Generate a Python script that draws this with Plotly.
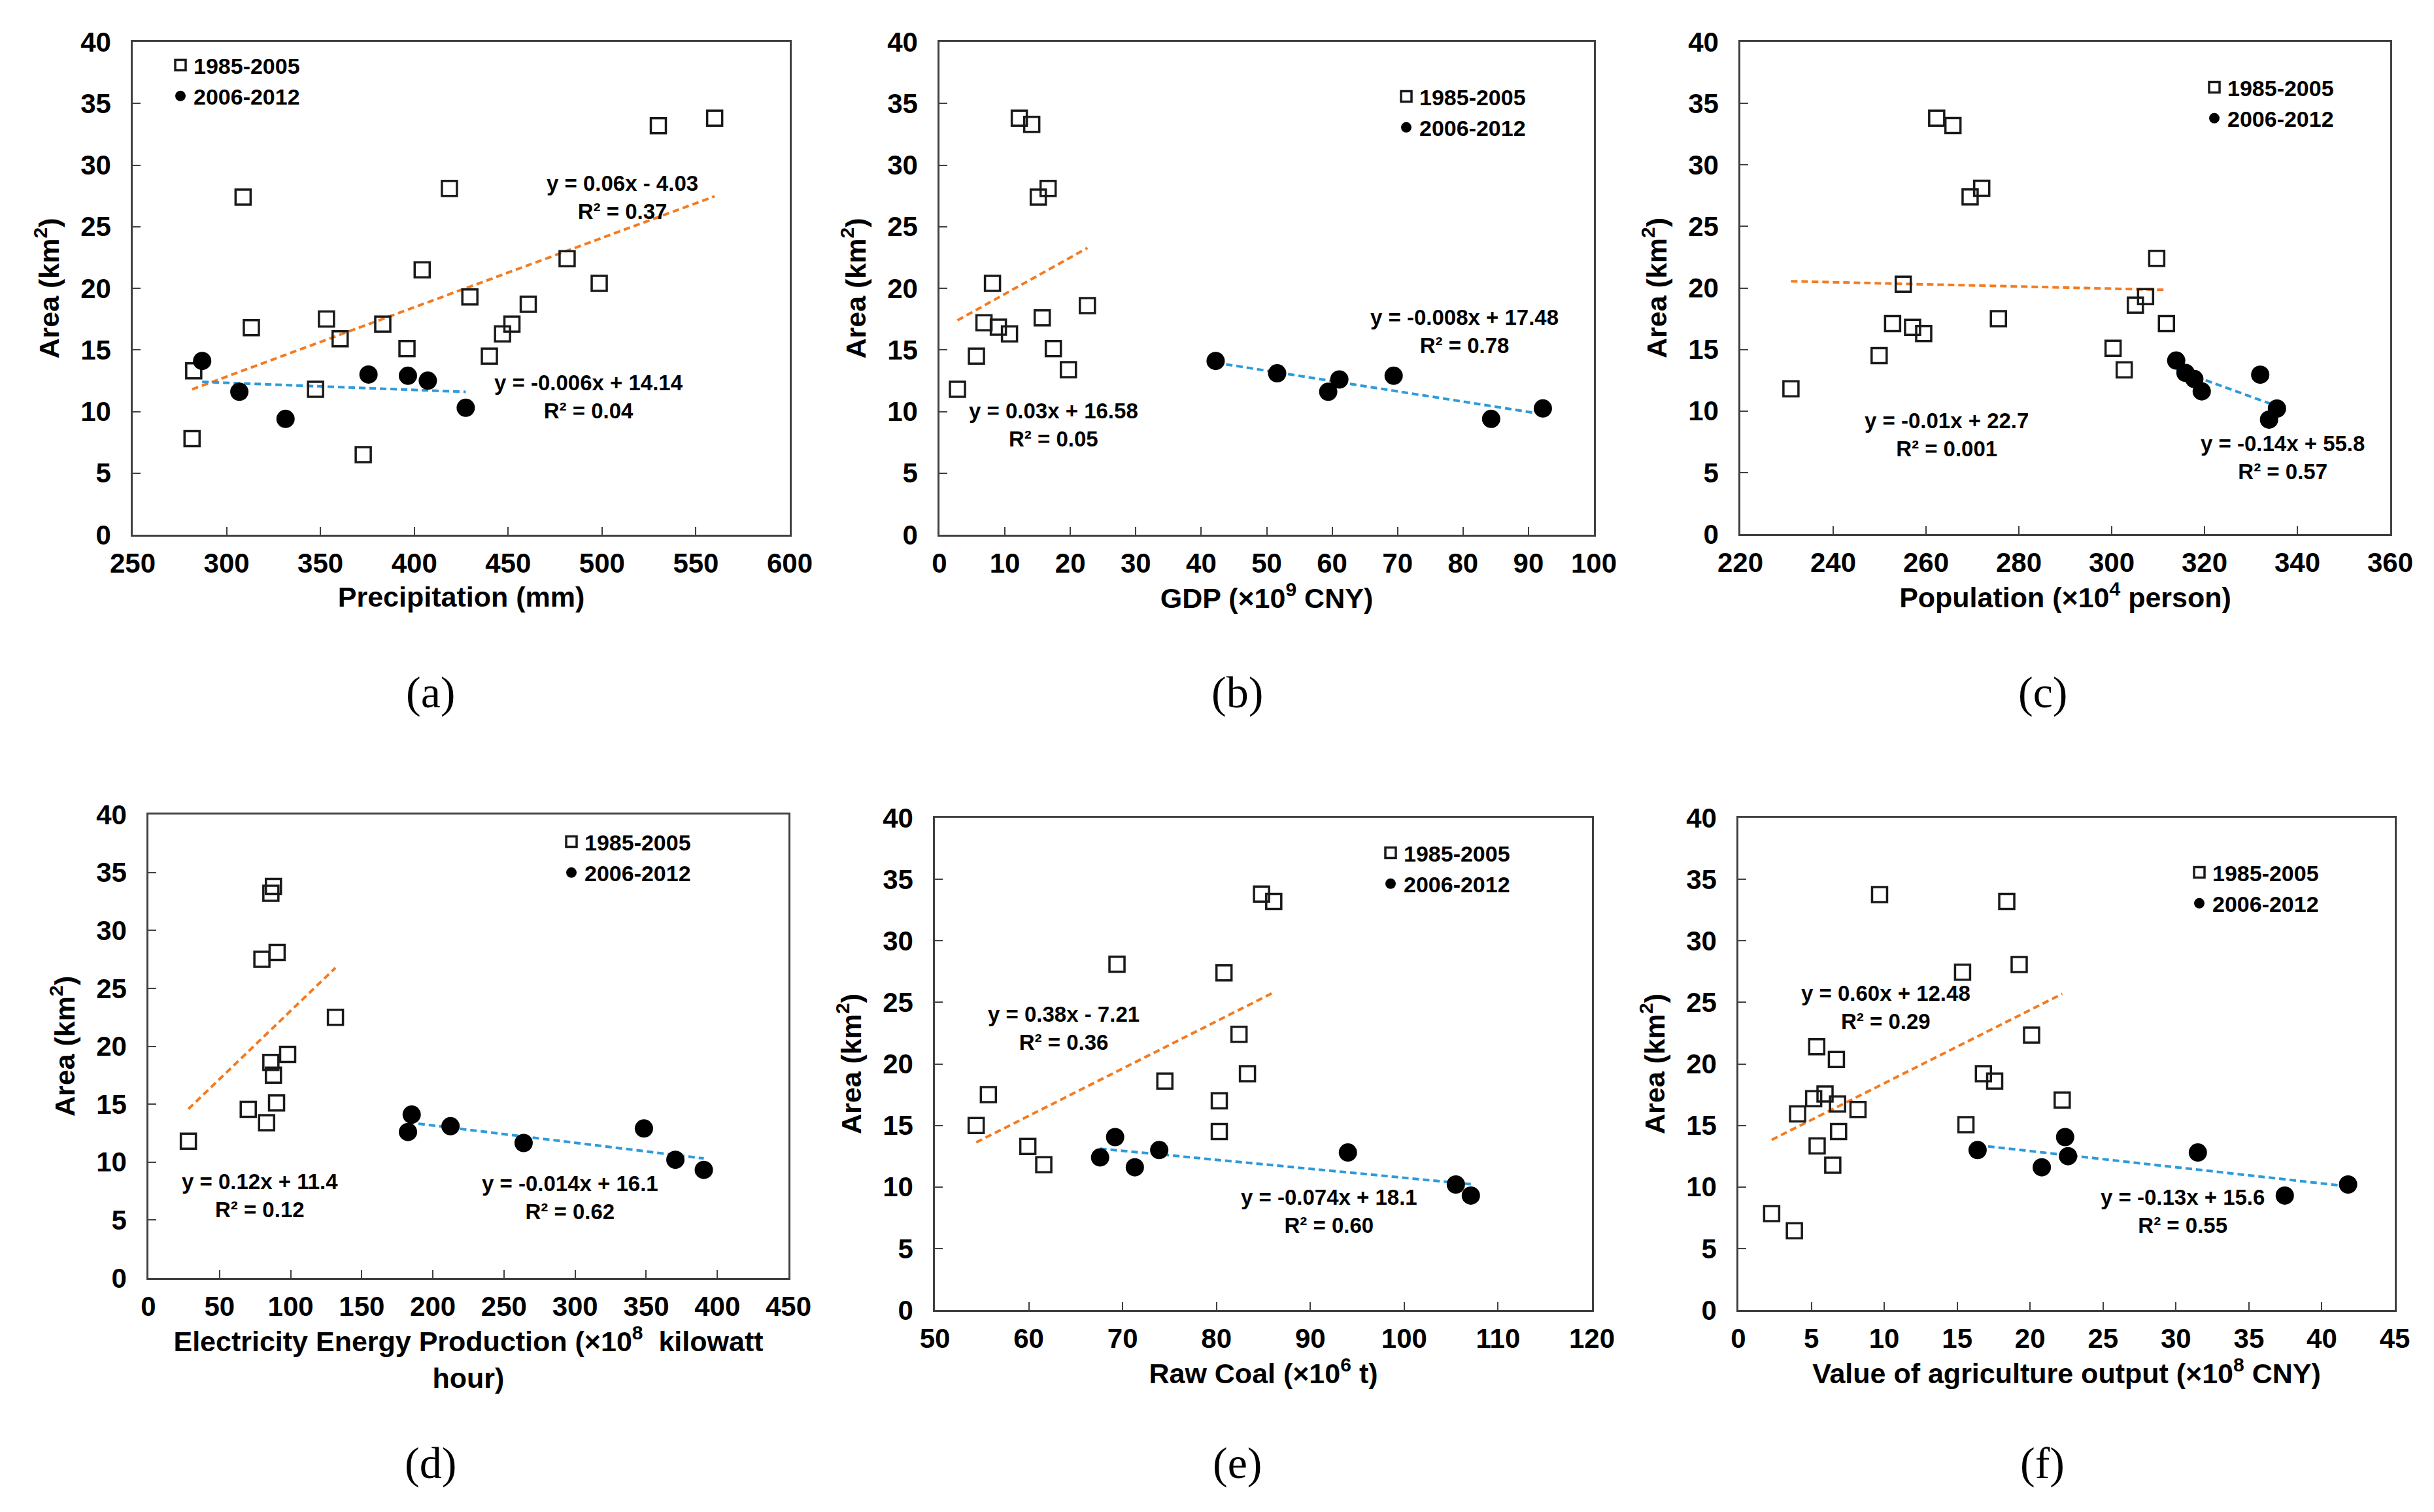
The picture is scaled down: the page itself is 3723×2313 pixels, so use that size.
import numpy as np
import plotly.graph_objects as go
from plotly.subplots import make_subplots

W, H = 3723, 2313

# ---- data (x = driver, y = area km2) ----
# (a) precipitation
precip_old = [282.5, 281.6, 308.8, 313.2, 353.2, 360.5, 347.4, 372.8, 383.2, 396.1, 418.7,
              404.2, 429.6, 440.0, 447.0, 452.0, 460.7, 481.4, 498.5, 530.0, 560.0]
area_precip_old = [13.3, 7.8, 27.4, 16.8, 17.5, 15.9, 11.8, 6.5, 17.1, 15.1, 28.1,
                   21.5, 19.3, 14.5, 16.3, 17.1, 18.7, 22.4, 20.4, 33.2, 33.8]
precip_new = [287.0, 306.8, 331.4, 375.6, 396.6, 407.2, 427.4]
area_precip_new = [14.1, 11.6, 9.4, 13.0, 12.9, 12.5, 10.3]

# (b) GDP
gdp_old = [2.75, 5.65, 6.8, 8.1, 9.0, 10.7, 12.2, 14.1, 15.1, 16.6, 15.7, 17.4, 19.7, 22.6]
area_gdp_old = [11.8, 14.5, 17.2, 20.4, 16.85, 16.3, 33.8, 33.3, 27.4, 28.1, 17.6, 15.1, 13.4, 18.6]
gdp_new = [42.2, 51.6, 59.4, 61.1, 69.4, 84.3, 92.2]
area_gdp_new = [14.1, 13.1, 11.6, 12.6, 12.9, 9.4, 10.25]

# (c) population
pop_old = [230.9, 249.9, 252.8, 255.1, 257.1, 259.5, 262.3, 265.8, 269.5, 272.0, 275.6,
           300.3, 302.7, 305.1, 307.3, 309.7, 311.8]
area_pop_old = [11.8, 14.5, 17.1, 20.3, 16.8, 16.3, 33.8, 33.2, 27.4, 28.1, 17.5,
                15.1, 13.35, 18.6, 19.3, 22.4, 17.1]
pop_new = [313.9, 315.9, 317.8, 319.4, 332.0, 333.9, 335.6]
area_pop_new = [14.1, 13.1, 12.6, 11.6, 12.95, 9.3, 10.2]

# (d) electricity
elec_old = [28.1, 70.2, 83.1, 86.1, 87.9, 79.8, 90.5, 86.1, 87.9, 90.1, 97.9, 131.5]
area_elec_old = [11.8, 14.55, 13.4, 33.2, 33.8, 27.5, 28.1, 18.6, 17.5, 15.1, 19.3, 22.5]
elec_new = [182.5, 185.1, 212.4, 263.8, 348.4, 370.5, 390.5]
area_elec_new = [12.6, 14.1, 13.1, 11.65, 12.9, 10.2, 9.33]

# (e) raw coal
coal_old = [54.4, 55.7, 59.9, 61.6, 69.4, 74.5, 80.3, 80.3, 80.8, 82.4, 83.3, 84.8, 86.1]
area_coal_old = [15.0, 17.5, 13.3, 11.8, 28.1, 18.6, 17.0, 14.5, 27.4, 22.4, 19.2, 33.8, 33.2]
coal_new = [67.6, 69.2, 71.3, 73.9, 94.0, 105.5, 107.1]
area_coal_new = [12.4, 14.05, 11.6, 13.0, 12.8, 10.2, 9.3]

# (f) agriculture output
agri_old = [2.28, 3.84, 4.06, 5.16, 5.37, 5.4, 5.94, 6.47, 6.72, 6.8, 6.87, 8.2, 9.68,
            15.37, 15.6, 16.8, 17.57, 18.4, 19.25, 20.1, 22.2]
area_agri_old = [7.84, 6.44, 15.93, 17.17, 21.4, 13.33, 17.56, 11.77, 20.36, 16.75, 14.5, 16.3, 33.76,
                 27.45, 15.06, 19.2, 18.6, 33.2, 28.07, 22.34, 17.07]
agri_new = [16.4, 20.8, 22.4, 22.6, 31.5, 37.46, 41.8]
area_agri_new = [13.0, 11.6, 14.05, 12.5, 12.8, 9.3, 10.2]

eq_old = ["y = 0.06x - 4.03<br>R² = 0.37", "y = 0.03x + 16.58<br>R² = 0.05",
          "y = -0.01x + 22.7<br>R² = 0.001", "y = 0.12x + 11.4<br>R² = 0.12",
          "y = 0.38x - 7.21<br>R² = 0.36", "y = 0.60x + 12.48<br>R² = 0.29"]
eq_new = ["y = -0.006x + 14.14<br>R² = 0.04", "y = -0.008x + 17.48<br>R² = 0.78",
          "y = -0.14x + 55.8<br>R² = 0.57", "y = -0.014x + 16.1<br>R² = 0.62",
          "y = -0.074x + 18.1<br>R² = 0.60", "y = -0.13x + 15.6<br>R² = 0.55"]
x_titles = ["Precipitation (mm)", "GDP (×10<sup>9</sup> CNY)", "Population (×10<sup>4</sup> person)",
            "Electricity Energy Production (×10<sup>8</sup>  kilowatt<br>hour)",
            "Raw Coal (×10<sup>6</sup> t)", "Value of agriculture output (×10<sup>8</sup> CNY)"]
panel_tags = ["(a)", "(b)", "(c)", "(d)", "(e)", "(f)"]

# layout helpers (pixels in the 3723x2313 picture)
panels = [
    dict(xo=precip_old, yo=area_precip_old, xn=precip_new, yn=area_precip_new,
         rng=[250, 600], dt=50, box=(195, 1200, 56, 810), eqo=(511, 27.4), eqn=(493, 11.2),
         leg=(248, 63), tag=(650, 1051)),
    dict(xo=gdp_old, yo=area_gdp_old, xn=gdp_new, yn=area_gdp_new,
         rng=[0, 100], dt=10, box=(1429, 2430, 56, 810), eqo=(17.4, 8.9), eqn=(80.2, 16.5),
         leg=(2123, 111), tag=(1884, 1051)),
    dict(xo=pop_old, yo=area_pop_old, xn=pop_new, yn=area_pop_new,
         rng=[220, 360], dt=20, box=(2654, 3648, 56, 809), eqo=(264.4, 8.1), eqn=(336.8, 6.2),
         leg=(3359, 97), tag=(3116, 1051)),
    dict(xo=elec_old, yo=area_elec_old, xn=elec_new, yn=area_elec_new,
         rng=[0, 450], dt=50, box=(219, 1198, 1238, 1947), eqo=(78.3, 7.1), eqn=(296.6, 6.95),
         leg=(846, 1251), tag=(650, 2230)),
    dict(xo=coal_old, yo=area_coal_old, xn=coal_new, yn=area_coal_new,
         rng=[50, 120], dt=10, box=(1422, 2427, 1243, 1996), eqo=(63.7, 22.9), eqn=(92.0, 8.0),
         leg=(2099, 1268), tag=(1884, 2230)),
    dict(xo=agri_old, yo=area_agri_old, xn=agri_new, yn=area_agri_new,
         rng=[0, 45], dt=5, box=(2651, 3655, 1243, 1996), eqo=(10.1, 24.6), eqn=(30.45, 8.0),
         leg=(3336, 1298), tag=(3116, 2230)),
]

FONT = "Liberation Sans, Arial, sans-serif"
ORANGE = "#F47B20"
BLUE = "#2D9BDB"
AXIS = "#404040"

fig = make_subplots(rows=2, cols=3)

for i, p in enumerate(panels):
    row, col = i // 3 + 1, i % 3 + 1
    n = i + 1
    leg_name = "legend" if n == 1 else "legend%d" % n

    # trend lines (least squares fit of each period)
    for xs, ys, color in [(p["xo"], p["yo"], ORANGE), (p["xn"], p["yn"], BLUE)]:
        k, b = np.polyfit(xs, ys, 1)
        lx = np.array([min(xs), max(xs)])
        fig.add_trace(go.Scatter(x=lx, y=k * lx + b, mode="lines", showlegend=False,
                                 line=dict(color=color, width=4, dash="10px,6px"),
                                 hoverinfo="skip"), row=row, col=col)

    fig.add_trace(go.Scatter(x=p["xo"], y=p["yo"], mode="markers", name="1985-2005",
                             legend=leg_name,
                             marker=dict(symbol="square-open", size=23, color="#1a1a1a",
                                         line=dict(width=3.5, color="#1a1a1a"))),
                  row=row, col=col)
    fig.add_trace(go.Scatter(x=p["xn"], y=p["yn"], mode="markers", name="2006-2012",
                             legend=leg_name,
                             marker=dict(symbol="circle", size=28, color="black")),
                  row=row, col=col)

    x0, x1, y0, y1 = p["box"]
    axis_common = dict(showline=True, linecolor=AXIS, linewidth=2.5, mirror=True,
                       ticks="inside", ticklen=12, tickwidth=2, tickcolor=AXIS,
                       showgrid=False, zeroline=False, automargin=False,
                       tickfont=dict(family=FONT, size=42, color="black", weight="bold"))
    fig.update_xaxes(range=p["rng"], dtick=p["dt"], tick0=p["rng"][0],
                     domain=[x0 / W, x1 / W], ticklabelstandoff=5,
                     title=dict(text=x_titles[i], standoff=14,
                                font=dict(family=FONT, size=43, color="black", weight="bold")),
                     **axis_common, row=row, col=col)
    fig.update_yaxes(range=[0, 40], dtick=5, domain=[1 - y1 / H, 1 - y0 / H],
                     ticklabelstandoff=22,
                     title=dict(text="Area (km<sup>2</sup>)", standoff=20,
                                font=dict(family=FONT, size=43, color="black", weight="bold")),
                     **axis_common, row=row, col=col)

    xr = "x" if n == 1 else "x%d" % n
    yr = "y" if n == 1 else "y%d" % n
    for txt, pos in [(eq_old[i], p["eqo"]), (eq_new[i], p["eqn"])]:
        fig.add_annotation(x=pos[0], y=pos[1], xref=xr, yref=yr, text=txt, showarrow=False,
                           align="center", xanchor="center", yanchor="middle",
                           font=dict(family=FONT, size=33, color="black", weight="bold"))

    fig.add_annotation(x=p["tag"][0] / W, y=1 - p["tag"][1] / H, xref="paper", yref="paper",
                       text=panel_tags[i], showarrow=False, xanchor="center", yanchor="middle",
                       font=dict(family="Liberation Serif, Times New Roman, serif", size=68,
                                 color="black"))

    fig.update_layout({leg_name: dict(x=p["leg"][0] / W, y=1 - p["leg"][1] / H,
                                      xanchor="left", yanchor="top", bgcolor="rgba(0,0,0,0)",
                                      itemwidth=30,
                                      font=dict(family=FONT, size=34, color="black",
                                                weight="bold"))})

fig.update_layout(width=W, height=H, margin=dict(l=0, r=0, t=0, b=0),
                  paper_bgcolor="white", plot_bgcolor="white", showlegend=True)

fig.write_html("out.html")
